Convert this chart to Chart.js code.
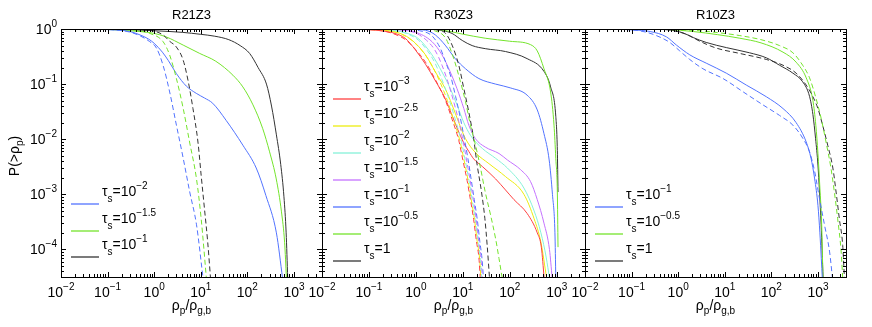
<!DOCTYPE html>
<html>
<head>
<meta charset="utf-8">
<script src="https://cdn.jsdelivr.net/npm/chart.js@4.4.1/dist/chart.umd.min.js"></script>
<style>
  body { margin: 0; background: #fff; }
  #wrap { position: relative; width: 872px; height: 327px; }
  #wrap canvas { position: absolute; left: 0; top: 0; }
</style>
</head>
<body>
<div id="wrap">
  <canvas id="c1" width="872" height="327"></canvas>
  <canvas id="c2" width="872" height="327"></canvas>
  <canvas id="c3" width="872" height="327"></canvas>
</div>
<script>
// ---- data: [rho_p/rho_g,b , P(>rho_p)] ----
// R21Z3
const r21_t2 = [[0.01,1],[0.05,0.99],[0.15,0.96],[0.3,0.9],[0.5,0.78],[0.75,0.66],[1.0,0.55],[1.5,0.38],[2.0,0.27],[3.0,0.155],[4.9,0.092],[8,0.068],[12,0.056],[18,0.045],[35,0.022],[80,0.0078],[155,0.003],[250,0.00095],[420,0.0002],[570,0.00003]];
const r21_t2_iso = [[0.01,1],[0.05,0.99],[0.15,0.96],[0.3,0.88],[0.5,0.75],[0.8,0.59],[1.12,0.45],[1.55,0.22],[2.15,0.072],[3.0,0.018],[4.2,0.0045],[5.8,0.0011],[8.1,0.00028],[11.2,0.00003]];
const r21_t15 = [[0.01,1],[0.1,0.98],[0.35,0.92],[0.95,0.84],[1.8,0.72],[4.2,0.51],[9.5,0.36],[21,0.26],[49,0.145],[80,0.089],[132,0.042],[214,0.0155],[300,0.0059],[417,0.0019],[540,0.00048],[630,0.000135],[690,0.00003]];
const r21_t15_iso = [[0.01,1],[0.1,0.99],[0.3,0.96],[0.55,0.91],[0.81,0.83],[1.55,0.59],[2.14,0.34],[3.0,0.126],[4.2,0.036],[5.75,0.0089],[8.1,0.0019],[10.2,0.00036],[13.2,0.00003]];
const r21_t1 = [[0.01,1],[0.3,0.97],[1,0.93],[4,0.87],[10,0.8],[20,0.74],[40,0.64],[70,0.5],[112,0.36],[170,0.2],[257,0.1],[330,0.04],[420,0.012],[520,0.0035],[610,0.0009],[680,0.0002],[735,0.00003]];
const r21_t1_iso = [[0.01,1],[0.3,0.99],[0.8,0.95],[1.55,0.78],[2.14,0.6],[3.0,0.47],[4.2,0.27],[5.4,0.11],[6.8,0.036],[8.7,0.0089],[10.2,0.0022],[12,0.00055],[14.1,0.000135],[16.2,0.00003]];

// R30Z3
const r30_t3 = [[0.01,1],[0.08,0.98],[0.2,0.92],[0.36,0.83],[0.59,0.68],[0.97,0.42],[1.6,0.23],[2.6,0.115],[4.2,0.055],[5.9,0.027],[8.2,0.0135],[10.5,0.0085],[13.4,0.006],[17,0.0044],[26,0.0032],[50,0.0019],[81,0.0012],[123,0.0008],[234,0.00045],[385,0.0002],[470,0.00011],[540,0.00003]];
const r30_t25 = [[0.01,1],[0.1,0.98],[0.28,0.92],[0.5,0.81],[0.82,0.63],[1.6,0.34],[2.6,0.166],[4.2,0.083],[5.9,0.042],[8.2,0.02],[11.4,0.0102],[18.6,0.0057],[36,0.0036],[81,0.0021],[200,0.001],[330,0.00036],[460,0.000135],[610,0.00003]];
const r30_t2 = [[0.01,1],[0.15,0.98],[0.4,0.92],[0.7,0.82],[1.15,0.66],[2.2,0.34],[3.6,0.166],[5.4,0.083],[7.5,0.042],[10.5,0.02],[14.5,0.0118],[26,0.0068],[50,0.0045],[89,0.003],[200,0.0013],[330,0.0005],[460,0.0002],[600,0.00007],[700,0.00003]];
const r30_t15 = [[0.01,1],[0.2,0.99],[0.5,0.95],[0.97,0.88],[2.2,0.59],[3.6,0.34],[5.4,0.166],[7.5,0.083],[10.5,0.036],[13.4,0.018],[18.6,0.0102],[30,0.0072],[59,0.0055],[89,0.0042],[170,0.0028],[277,0.0017],[385,0.0008],[535,0.0003],[700,0.0001],[800,0.00003]];
const r30_t1 = [[0.01,1],[0.5,0.995],[1.0,0.98],[1.6,0.95],[2.6,0.78],[4.2,0.51],[6.9,0.29],[11.4,0.19],[22,0.126],[50,0.1],[105,0.085],[234,0.063],[385,0.034],[535,0.0126],[690,0.0042],[810,0.001],[915,0.0002],[955,0.00003]];
const r30_t05 = [[0.01,1],[2,0.995],[3.6,0.96],[9.7,0.81],[30,0.68],[100,0.6],[277,0.52],[385,0.4],[535,0.19],[740,0.072],[875,0.018],[955,0.0045],[1030,0.0011],[1065,0.00011]];
const r30_t0 = [[0.01,1],[1.5,0.995],[3.1,0.96],[5.9,0.83],[9.7,0.62],[15.8,0.5],[30,0.44],[81,0.39],[234,0.29],[535,0.17],[740,0.089],[955,0.026],[1030,0.0063],[1065,0.0011]];
const r30_t3_iso = [[0.01,1],[0.08,0.98],[0.2,0.92],[0.36,0.8],[0.6,0.64],[0.97,0.43],[1.6,0.25],[2.6,0.12],[4.2,0.052],[5.9,0.023],[8.2,0.0095],[10,0.0042],[12.3,0.0018],[14.5,0.0008],[17,0.00035],[19.5,0.00014],[22,0.00007],[23.5,0.00003]];
const r30_t25_iso = [[0.01,1],[0.1,0.98],[0.28,0.92],[0.5,0.8],[0.82,0.62],[1.3,0.42],[2.0,0.25],[3.1,0.12],[4.7,0.05],[6.4,0.022],[8.7,0.0092],[10.6,0.0042],[12.9,0.0018],[15.1,0.0008],[17.7,0.00035],[20.2,0.00014],[22.7,0.00007],[24.2,0.00003]];
const r30_t2_iso = [[0.01,1],[0.15,0.98],[0.4,0.92],[0.7,0.8],[1.15,0.62],[1.7,0.42],[2.5,0.25],[3.6,0.12],[5.2,0.05],[7,0.022],[9.3,0.0092],[11.2,0.0042],[13.5,0.0018],[15.8,0.0008],[18.4,0.00035],[20.9,0.00014],[23.4,0.00007],[25,0.00003]];
const r30_t15_iso = [[0.01,1],[0.2,0.99],[0.5,0.95],[0.97,0.85],[1.7,0.62],[2.6,0.4],[3.6,0.22],[4.8,0.11],[6.3,0.05],[8.2,0.021],[10.2,0.009],[12,0.0042],[14.3,0.0018],[16.7,0.0008],[19.3,0.00035],[21.8,0.00014],[24.3,0.00007],[26,0.00003]];
const r30_t1_iso = [[0.01,1],[0.5,0.99],[1.2,0.93],[2.2,0.75],[3.3,0.45],[4.3,0.25],[5.5,0.14],[7,0.06],[8.8,0.025],[10.8,0.01],[12.8,0.0045],[15,0.0019],[17.5,0.0008],[20.3,0.00035],[23,0.00014],[25.5,0.00007],[27.5,0.00003]];
const r30_t05_iso = [[0.01,1],[1.5,0.99],[2.5,0.93],[4.3,0.68],[6.4,0.29],[8.9,0.11],[11.4,0.048],[14.5,0.018],[18.6,0.0078],[23.8,0.003],[30,0.0011],[39,0.00042],[50,0.000155],[59,0.000068],[69,0.00003]];
const r30_t0_iso = [[0.01,1],[2,0.99],[3,0.95],[4.3,0.83],[5.9,0.51],[8.2,0.22],[10.5,0.083],[13.4,0.031],[17,0.0102],[20.2,0.0034],[25,0.0011],[29.5,0.00036],[33,0.000118],[37,0.00003]];

// R10Z3
const r10_t1 = [[0.01,1],[0.05,0.99],[0.108,0.96],[0.25,0.9],[0.56,0.72],[0.92,0.51],[1.77,0.34],[4.0,0.24],[10.8,0.158],[29,0.096],[78,0.059],[178,0.036],[340,0.02],[560,0.0089],[710,0.0045],[850,0.0019],[1000,0.00063],[1100,0.0002],[1180,0.000068],[1240,0.00003]];
const r10_t1_iso = [[0.01,1],[0.05,0.99],[0.108,0.96],[0.2,0.88],[0.34,0.76],[0.66,0.57],[1.08,0.4],[1.77,0.28],[3.4,0.19],[9.2,0.126],[25,0.072],[66,0.042],[150,0.027],[290,0.018],[480,0.0102],[660,0.0059],[850,0.0026],[1080,0.00083],[1380,0.00028],[1780,0.00009],[2050,0.00003]];
const r10_t05 = [[0.01,1],[0.3,0.99],[0.6,0.98],[2.1,0.9],[7,0.79],[21,0.68],[60,0.56],[178,0.38],[340,0.25],[560,0.13],[780,0.05],[900,0.018],[1000,0.0055],[1100,0.0013],[1200,0.0003],[1280,0.00003]];
const r10_t05_iso = [[0.01,1],[0.3,0.99],[0.6,0.98],[2.9,0.93],[7,0.86],[21,0.76],[60,0.64],[150,0.5],[290,0.37],[470,0.22],[660,0.13],[910,0.055],[1170,0.024],[1490,0.0089],[1900,0.003],[2250,0.0011],[2650,0.00036],[3150,0.00009],[3400,0.00003]];
const r10_t0 = [[0.01,1],[0.3,0.99],[0.6,0.97],[1.27,0.85],[2.1,0.7],[4.0,0.57],[10.8,0.46],[34,0.37],[78,0.3],[150,0.22],[290,0.158],[470,0.11],[660,0.06],[780,0.028],[890,0.0102],[1000,0.0034],[1080,0.0011],[1170,0.00028],[1290,0.00003]];
const r10_t0_iso = [[0.01,1],[0.3,0.99],[0.6,0.97],[1.5,0.8],[2.9,0.6],[6.6,0.45],[21,0.36],[78,0.28],[178,0.22],[340,0.158],[560,0.096],[780,0.059],[1000,0.036],[1260,0.018],[1620,0.0078],[2090,0.003],[2450,0.0011],[2880,0.00036],[3400,0.000118],[3700,0.00003]];

// tick labels (exponents of 10) and legend exponents
const xTickExp = ['−2', '−1', '0', '1', '2', '3'];
const yTickExp = ['0', '−1', '−2', '−3', '−4'];
const r21Taus = ['−2', '−1.5', '−1'];
const r30Taus = ['−3', '−2.5', '−2', '−1.5', '−1', '−0.5', ''];
const r10Taus = ['−1', '−0.5', ''];

const FONT = '"Liberation Sans", Arial, Helvetica, sans-serif';
const XMIN = 0.01, XMAX = 4000, YMIN = 3.16e-5, YMAX = 1;
const TOP = 29, BOTTOM = 277;

const C = {
  red: '#ff4040', yellow: '#ecec10', cyan: '#86f2d8', violet: '#c472ff',
  blue: '#5273ff', green: '#74e42c', black: '#333333'
};

function drawRich(ctx, parts, x, y, align) {
  let w = 0;
  parts.forEach(p => { ctx.font = p[1] + 'px ' + FONT; w += ctx.measureText(p[0]).width; });
  let cx = align === 'center' ? x - w / 2 : (align === 'right' ? x - w : x);
  ctx.textAlign = 'left';
  ctx.textBaseline = 'alphabetic';
  parts.forEach(p => {
    ctx.font = p[1] + 'px ' + FONT;
    ctx.fillText(p[0], cx, y + (p[2] || 0));
    cx += ctx.measureText(p[0]).width;
  });
}

function tauParts(e) {
  if (e === '') return [['τ', 14], ['s', 10, 6], ['=1', 14]];
  return [['τ', 14], ['s', 10, 6], ['=10', 14], [e, 10, -7]];
}

function makePanel(id, left, right, title, series, legend, showY) {
  const plugin = {
    id: 'frame' + id,
    afterDraw(chart) {
      const ctx = chart.ctx;
      const xs = chart.scales.x, ys = chart.scales.y;
      const a = chart.chartArea;
      ctx.save();
      ctx.setLineDash([]);
      ctx.globalAlpha = 1;
      ctx.strokeStyle = '#000';
      ctx.fillStyle = '#000';
      ctx.lineWidth = 1;
      ctx.strokeRect(Math.round(a.left) + 0.5, Math.round(a.top) + 0.5,
        Math.round(a.right - a.left), Math.round(a.bottom - a.top));

      ctx.beginPath();
      for (let n = -2; n <= 3; n++) {
        for (let k = 1; k <= 9; k++) {
          const v = k * Math.pow(10, n);
          if (v > XMAX) break;
          const px = Math.round(xs.getPixelForValue(v)) + 0.5;
          const len = k === 1 ? 5 : 3;
          ctx.moveTo(px, a.bottom); ctx.lineTo(px, a.bottom - len);
          ctx.moveTo(px, a.top); ctx.lineTo(px, a.top + len);
        }
      }
      for (let n = -5; n <= 0; n++) {
        for (let k = 1; k <= 9; k++) {
          const v = k * Math.pow(10, n);
          if (v < YMIN || v > YMAX) continue;
          const py = Math.round(ys.getPixelForValue(v)) + 0.5;
          const len = k === 1 ? 5 : 3;
          ctx.moveTo(a.left, py); ctx.lineTo(a.left + len, py);
          ctx.moveTo(a.right, py); ctx.lineTo(a.right - len, py);
        }
      }
      ctx.stroke();

      xTickExp.forEach((e, i) => {
        const px = xs.getPixelForValue(Math.pow(10, i - 2));
        drawRich(ctx, [['10', 14], [e, 10, -7]], px, 297, 'center');
      });
      if (showY) {
        yTickExp.forEach((e, i) => {
          const py = ys.getPixelForValue(Math.pow(10, -i));
          drawRich(ctx, [['10', 14], [e, 10, -7]], a.left - 4, py + 5, 'right');
        });
        ctx.save();
        ctx.translate(19, 156);
        ctx.rotate(-Math.PI / 2);
        drawRich(ctx, [['P(>ρ', 14], ['p', 10, 4], [')', 14]], 0, 0, 'center');
        ctx.restore();
      }
      const mid = (a.left + a.right) / 2;
      ctx.font = '13px ' + FONT;
      ctx.textAlign = 'center';
      ctx.fillText(title, mid, 19);
      drawRich(ctx, [['ρ', 14], ['p', 10, 4], ['/ρ', 14], ['g,b', 10, 4]], mid, 310, 'center');

      // legend: short coloured line + label, one row per tau_s
      ctx.lineWidth = 1.3;
      legend.items.forEach((it, i) => {
        const ly = Math.round(legend.y0 + legend.dy * i);
        ctx.strokeStyle = it.color;
        ctx.beginPath();
        ctx.moveTo(legend.x0, ly);
        ctx.lineTo(legend.x0 + 28, ly);
        ctx.stroke();
        ctx.fillStyle = '#000';
        drawRich(ctx, tauParts(it.tau), legend.x0 + 31, ly - 8, 'left');
      });
      ctx.restore();
    }
  };

  return new Chart(document.getElementById(id), {
    type: 'line',
    data: {
      datasets: series.map(s => ({
        data: s.pts.map(p => ({ x: p[0], y: p[1] })),
        borderColor: s.color,
        borderWidth: 1,
        borderDash: s.dash ? [5, 3] : [],
        pointRadius: 0,
        fill: false,
        cubicInterpolationMode: 'monotone',
        clip: 0
      }))
    },
    options: {
      responsive: false,
      animation: false,
      layout: { padding: { left: left, right: 872 - right, top: TOP, bottom: 327 - BOTTOM } },
      plugins: { legend: { display: false }, tooltip: { enabled: false } },
      scales: {
        x: { type: 'logarithmic', min: XMIN, max: XMAX, display: false },
        y: { type: 'logarithmic', min: YMIN, max: YMAX, display: false }
      }
    },
    plugins: [plugin]
  });
}

makePanel('c1', 61, 322, 'R21Z3', [
  { pts: r21_t2_iso, color: C.blue, dash: true },
  { pts: r21_t15_iso, color: C.green, dash: true },
  { pts: r21_t1_iso, color: C.black, dash: true },
  { pts: r21_t2, color: C.blue },
  { pts: r21_t15, color: C.green },
  { pts: r21_t1, color: C.black }
], { x0: 71, y0: 204, dy: 26.5, items: [
  { color: C.blue, tau: r21Taus[0] },
  { color: C.green, tau: r21Taus[1] },
  { color: C.black, tau: r21Taus[2] }
] }, true);

makePanel('c2', 322, 585, 'R30Z3', [
  { pts: r30_t3_iso, color: C.red, dash: true },
  { pts: r30_t25_iso, color: C.yellow, dash: true },
  { pts: r30_t2_iso, color: C.cyan, dash: true },
  { pts: r30_t15_iso, color: C.violet, dash: true },
  { pts: r30_t1_iso, color: C.blue, dash: true },
  { pts: r30_t05_iso, color: C.green, dash: true },
  { pts: r30_t0_iso, color: C.black, dash: true },
  { pts: r30_t3, color: C.red },
  { pts: r30_t25, color: C.yellow },
  { pts: r30_t2, color: C.cyan },
  { pts: r30_t15, color: C.violet },
  { pts: r30_t1, color: C.blue },
  { pts: r30_t05, color: C.green },
  { pts: r30_t0, color: C.black }
], { x0: 333, y0: 99, dy: 27, items: [
  { color: C.red, tau: r30Taus[0] },
  { color: C.yellow, tau: r30Taus[1] },
  { color: C.cyan, tau: r30Taus[2] },
  { color: C.violet, tau: r30Taus[3] },
  { color: C.blue, tau: r30Taus[4] },
  { color: C.green, tau: r30Taus[5] },
  { color: C.black, tau: r30Taus[6] }
] }, false);

makePanel('c3', 585, 846, 'R10Z3', [
  { pts: r10_t1_iso, color: C.blue, dash: true },
  { pts: r10_t05_iso, color: C.green, dash: true },
  { pts: r10_t0_iso, color: C.black, dash: true },
  { pts: r10_t1, color: C.blue },
  { pts: r10_t05, color: C.green },
  { pts: r10_t0, color: C.black }
], { x0: 595, y0: 207, dy: 27, items: [
  { color: C.blue, tau: r10Taus[0] },
  { color: C.green, tau: r10Taus[1] },
  { color: C.black, tau: r10Taus[2] }
] }, false);
</script>
</body>
</html>
